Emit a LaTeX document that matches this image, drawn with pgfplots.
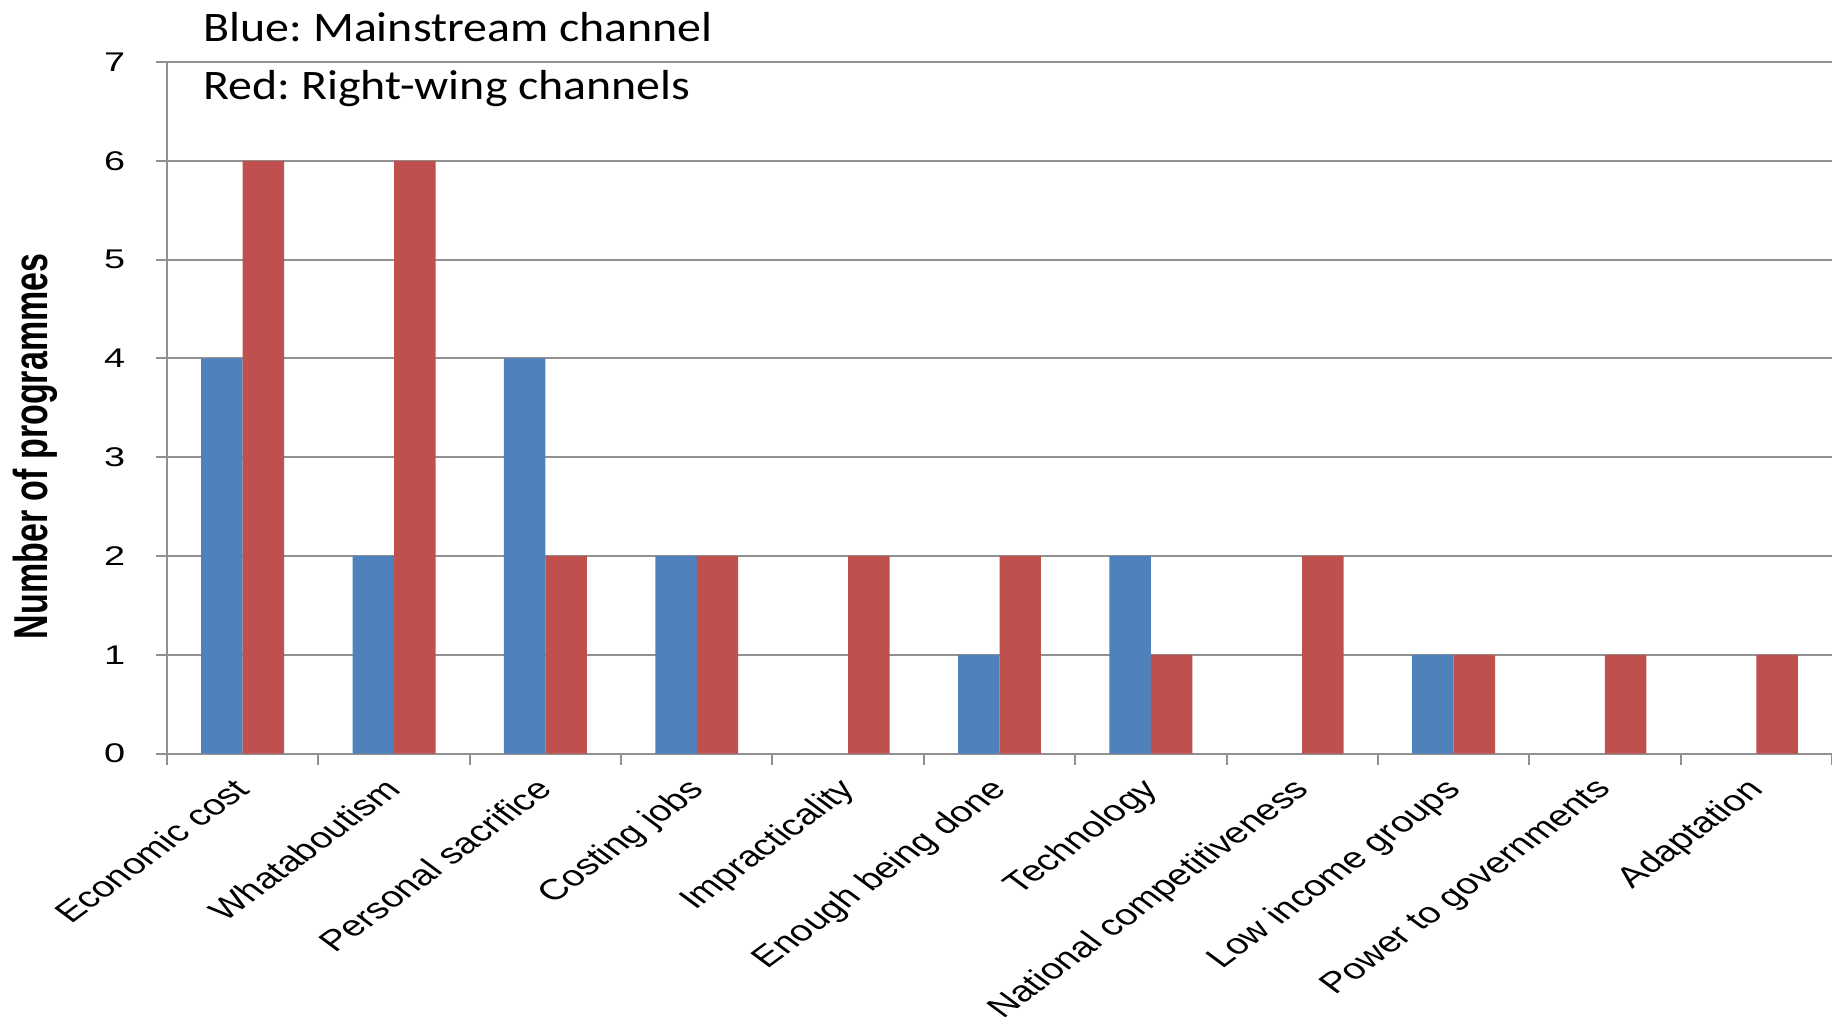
\documentclass[border=0pt]{standalone}
\usepackage{pgfplots}
\pgfplotsset{compat=1.18}
\usepackage{fontspec}
\setmainfont{Liberation Sans}
\newfontfamily\calfont{Carlito}
\usetikzlibrary{calc}
\definecolor{xlblue}{RGB}{79,129,189}
\definecolor{xlred}{RGB}{192,80,77}
\definecolor{gridgray}{RGB}{145,145,145}
\frenchspacing
\begin{document}
\begin{tikzpicture}
\begin{axis}[
  scale only axis,
  width=832.5pt, height=345.8pt,
  xmin=-0.5, xmax=10.5, ymin=0, ymax=7,
  axis x line=bottom, axis y line=left,
  axis line style={-, draw=gridgray, line width=1pt},
  ytick={0,1,2,3,4,5,6,7},
  yticklabels={0,1,2,3,4,5,6,7},
  ymajorgrids,
  grid style={draw=gridgray, line width=1pt},
  tick align=outside,
  tick style={draw=gridgray, line width=1pt},
  major tick length=5.5pt,
  xtick={-0.5,0.5,1.5,2.5,3.5,4.5,5.5,6.5,7.5,8.5,9.5,10.5},
  x tick label as interval,
  xticklabels={Economic cost,Whataboutism,Personal sacrifice,Costing jobs,Impracticality,Enough being done,Technology,National competitiveness,Low income groups,Power to governments,Adaptation},
  xticklabel style={font=\fontsize{14.5}{17}\selectfont, xscale=1.35, rotate=45, anchor=north east, inner sep=1pt, xshift=-6pt},
  yticklabel style={font=\fontsize{13.5}{16}\selectfont, xscale=1.4, anchor=east, xshift=-7.5pt},
]
\addplot[ybar, bar width=0.274, bar shift=-0.137, fill=xlblue, draw=none]
  coordinates {(0,4) (1,2) (2,4) (3,2) (5,1) (6,2) (8,1)};
\addplot[ybar, bar width=0.274, bar shift=0.137, fill=xlred, draw=none]
  coordinates {(0,6) (1,6) (2,2) (3,2) (4,2) (5,2) (6,1) (7,2) (8,1) (9,1) (10,1)};
\coordinate (O) at (rel axis cs:0,0);
\coordinate (TL) at (rel axis cs:0,1);
\coordinate (TR) at (rel axis cs:1,1);
\end{axis}
\node[font=\bfseries\fontsize{17}{20}\selectfont, xscale=1.4, rotate=90] at ($(O)+(-66pt,153.6pt)$) {Number of programmes};
\node[anchor=base west, font=\calfont\fontsize{21}{25}\selectfont, xscale=1.14, inner sep=0pt] at ($(TL)+(18pt,10pt)$) {Blue: Mainstream channel};
\node[anchor=base west, font=\calfont\fontsize{21}{25}\selectfont, xscale=1.14, inner sep=0pt] at ($(TL)+(18pt,-19pt)$) {Red: Right-wing channels};
\pgfresetboundingbox
\path[use as bounding box] ($(O)+(-83.5pt,-131.7pt)$) rectangle ($(TR)+(0,31pt)$);
\end{tikzpicture}
\end{document}
